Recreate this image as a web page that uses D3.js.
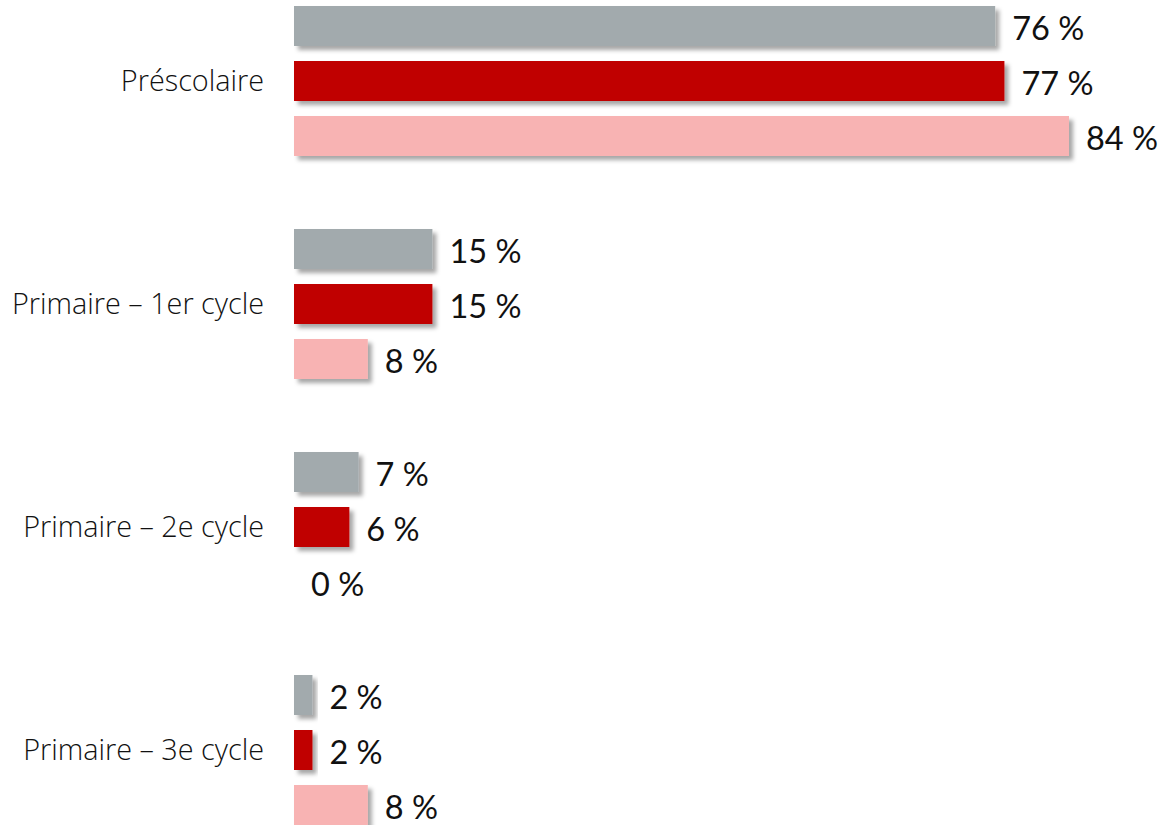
<!DOCTYPE html>
<html>
<head>
<meta charset="utf-8">
<script src="https://cdn.jsdelivr.net/npm/d3@7"></script>
<style>
  html, body { margin: 0; padding: 0; background: #fff; }
</style>
</head>
<body>
<div id="chart"></div>
<script>
var categories = ["Préscolaire", "Primaire – 1er cycle", "Primaire – 2e cycle", "Primaire – 3e cycle"];
var seriesNames = ["serie1", "serie2", "serie3"];
var seriesColors = ["#A2AAAD", "#C00000", "#F8B3B3"];
var serie1 = [76, 15, 7, 2];
var serie2 = [77, 15, 6, 2];
var serie3 = [84, 8, 0, 8];

var width = 1163,
    height = 825;

var rows = [];
categories.forEach(function(cat, i) {
  rows.push({ category: cat, series: "serie1", value: serie1[i] });
  rows.push({ category: cat, series: "serie2", value: serie2[i] });
  rows.push({ category: cat, series: "serie3", value: serie3[i] });
});

var svg = d3.select("#chart")
  .append("svg")
    .attr("width", width)
    .attr("height", height);

var defs = svg.append("defs");
var shadow = defs.append("filter")
    .attr("id", "shadow")
    .attr("x", "-20%").attr("y", "-20%")
    .attr("width", "150%").attr("height", "160%");
shadow.append("feDropShadow")
    .attr("dx", 4)
    .attr("dy", 4)
    .attr("stdDeviation", 2)
    .attr("flood-color", "#000")
    .attr("flood-opacity", 0.35);

var groupScale = d3.scaleBand()
    .domain(categories)
    .range([-30.5, 861.5])
    .paddingInner(73 / 223)
    .paddingOuter(73 / 223 / 2);

var seriesScale = d3.scaleBand()
    .domain(seriesNames)
    .range([0, groupScale.bandwidth()])
    .paddingInner(15 / 55)
    .paddingOuter(0);

var colorScale = d3.scaleOrdinal()
    .domain(seriesNames)
    .range(seriesColors);

var xScale = d3.scaleLinear()
    .domain([0, 84])
    .range([294, 1069]);

// category labels
svg.append("g")
  .selectAll("text")
  .data(categories)
  .enter()
    .append("text")
    .attr("x", 264)
    .attr("y", function(d) { return groupScale(d) + groupScale.bandwidth() / 2; })
    .attr("dy", "0.35em")
    .attr("text-anchor", "end")
    .attr("font-family", "'Open Sans', sans-serif")
    .attr("font-weight", 300)
    .attr("font-size", "28.8px")
    .attr("fill", "#111")
    .text(function(d) { return d; });

// bars
svg.append("g")
  .selectAll("rect")
  .data(rows.filter(function(d) { return d.value > 0; }))
  .enter()
    .append("rect")
    .attr("x", xScale(0))
    .attr("y", function(d) { return groupScale(d.category) + seriesScale(d.series); })
    .attr("width", function(d) { return xScale(d.value) - xScale(0); })
    .attr("height", seriesScale.bandwidth())
    .attr("fill", function(d) { return colorScale(d.series); })
    .attr("filter", "url(#shadow)");

// value labels
svg.append("g")
  .selectAll("text")
  .data(rows)
  .enter()
    .append("text")
    .attr("x", function(d) { return xScale(d.value) + 17; })
    .attr("y", function(d) { return groupScale(d.category) + seriesScale(d.series) + seriesScale.bandwidth() / 2 + 3; })
    .attr("dy", "0.35em")
    .attr("font-family", "Lato, sans-serif")
    .attr("font-size", "32.5px")
    .attr("fill", "#111")
    .text(function(d) { return d.value + " %"; });
</script>
</body>
</html>
